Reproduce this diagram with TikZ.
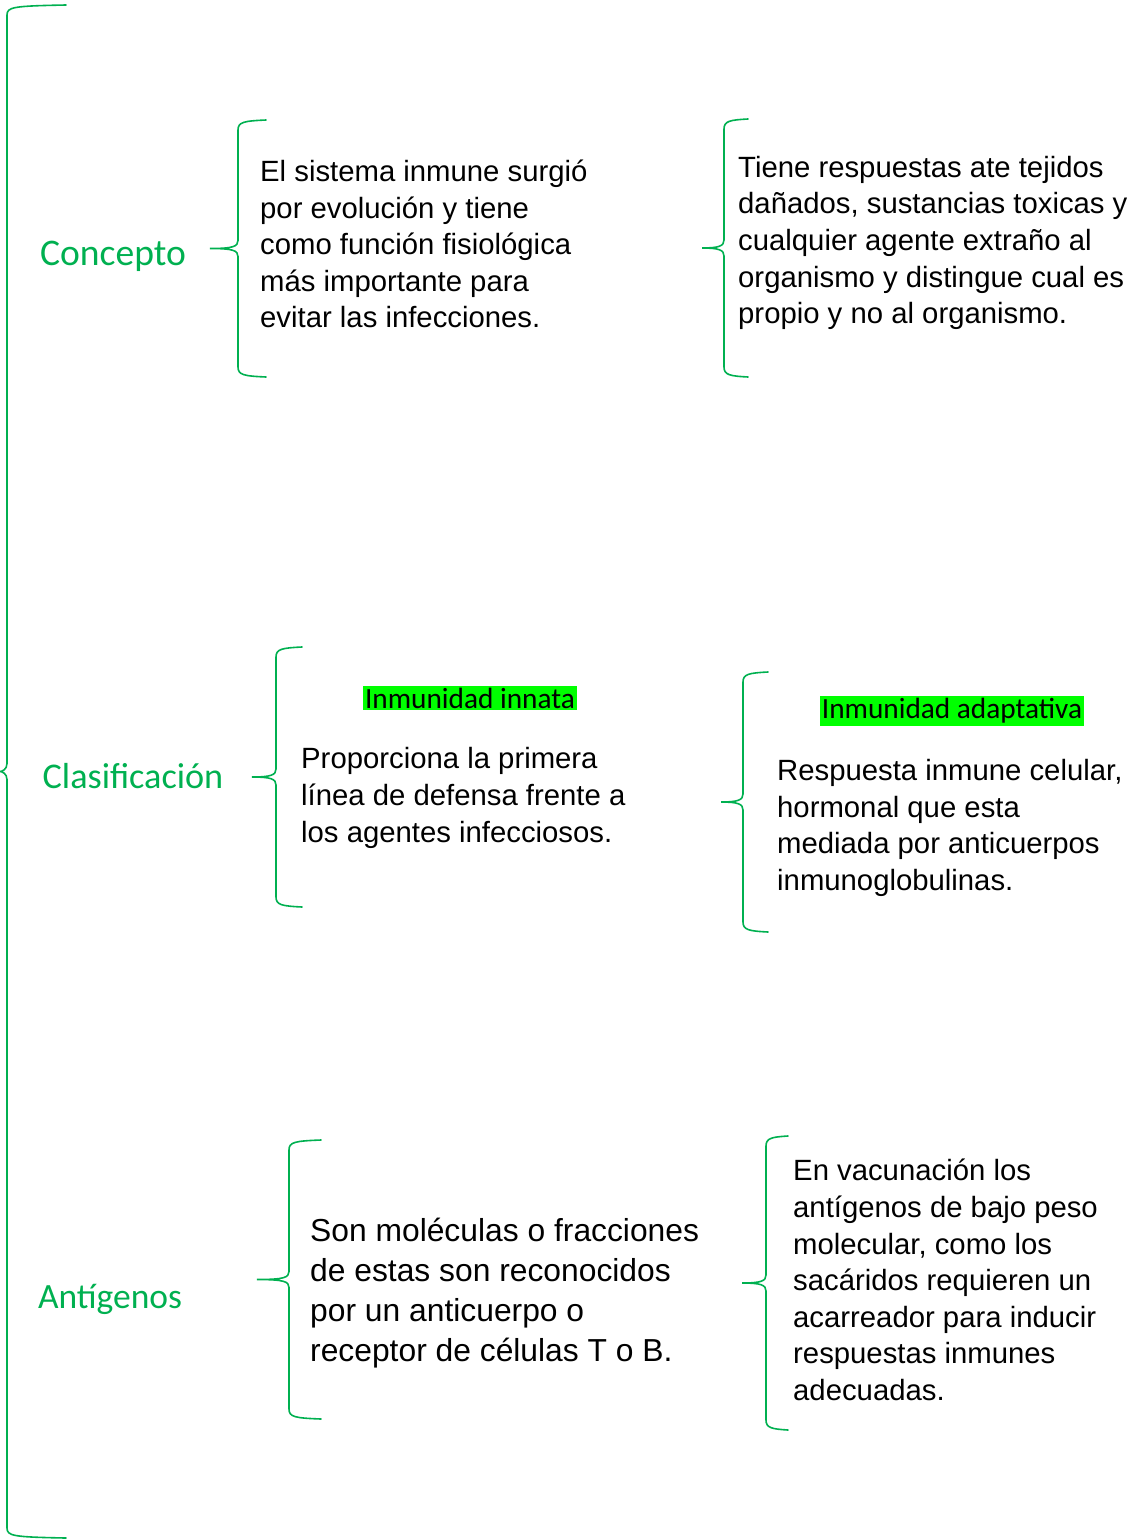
\documentclass[tikz,border=0pt]{standalone}
\usepackage{fontspec}
\setmainfont{Liberation Sans}
\newfontfamily\calib{Carlito}
\definecolor{wgreen}{HTML}{00B050}
\definecolor{hlgreen}{HTML}{00FF00}
\newcommand{\wbrace}[5]{%
  \draw[bracestyle] (#1,#2) .. controls ({#3+6},{#2+1}) and (#3,{#2+2}) .. (#3,{#2+10})
    -- (#3,{(#2+#5)/2-8}) .. controls (#3,{(#2+#5)/2-2}) and ({#3-5},{(#2+#5)/2}) .. (#4,{(#2+#5)/2})
    .. controls ({#3-5},{(#2+#5)/2}) and (#3,{(#2+#5)/2+2}) .. (#3,{(#2+#5)/2+8})
    -- (#3,{#5-10}) .. controls (#3,{#5-2}) and ({#3+6},{#5-1}) .. (#1,#5);}
\tikzset{
  bracestyle/.style={draw=wgreen, line width=1.6pt, line cap=round},
  body/.style={anchor=west, align=left, inner sep=0pt, font=\fontsize{29.3}{36.6}\selectfont},
  bigbody/.style={anchor=west, align=left, inner sep=0pt, font=\fontsize{31.8}{40}\selectfont},
  lbl/.style={inner sep=0pt, text=wgreen, font=\calib\fontsize{#1}{40}\selectfont},
  hl/.style={fill=hlgreen, inner sep=2pt, font=\calib\fontsize{29.3}{32}\selectfont}
}
\begin{document}
\begin{tikzpicture}[x=1pt,y=-1pt]
\useasboundingbox (0,0) rectangle (1127,1540);
% main brace
\wbrace{66}{5}{7}{0}{1538}
% Concepto
\node[lbl=37.6] (concepto) at (113,256) {Concepto};
\wbrace{266}{120}{238}{210}{377}
\node[body] (c1) at (260,244) {El sistema inmune surgió\\por evolución y tiene\\como función fisiológica\\más importante para\\evitar las infecciones.};
\wbrace{748}{119}{724}{702}{377}
\node[body] (c2) at (738,243) {Tiene respuestas ate tejidos\\dañados, sustancias toxicas y\\cualquier agente extraño al\\organismo y distingue cual es\\propio y no al organismo.};
% Clasificacion
\node[lbl=36.2] (clasif) at (133,776) {Clasificación};
\wbrace{302}{647}{276}{252}{907}
\node[hl] (innata) at (470,698) {Inmunidad innata};
\node[body] (k1) at (301,798) {Proporciona la primera\\línea de defensa frente a\\los agentes infecciosos.};
\wbrace{768}{672}{743}{721}{932}
\node[hl] (adapt) at (952,711) {Inmunidad adaptativa};
\node[body] (k2) at (777,828) {Respuesta inmune celular,\\hormonal que esta\\mediada por anticuerpos\\inmunoglobulinas.};
% Antigenos
\node[lbl=35.5] (antig) at (110,1299) {Antígenos};
\wbrace{321}{1140}{289}{257}{1419}
\node[bigbody] (a1) at (310,1293) {Son moléculas o fracciones\\de estas son reconocidos\\por un anticuerpo o\\receptor de células T o B.};
\wbrace{788}{1136}{766}{742}{1430}
\node[body] (a2) at (793,1280) {En vacunación los\\antígenos de bajo peso\\molecular, como los\\sacáridos requieren un\\acarreador para inducir\\respuestas inmunes\\adecuadas.};
\end{tikzpicture}
\end{document}
